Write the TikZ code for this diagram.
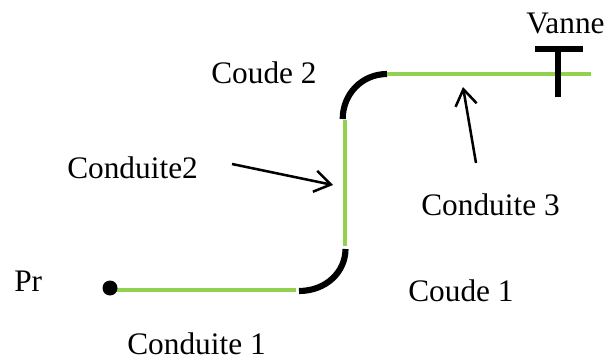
\documentclass[tikz,border=0pt]{standalone}
\usepackage{fontspec}
\setmainfont{Liberation Serif}
\usetikzlibrary{arrows.meta}
\definecolor{pipegreen}{RGB}{146,208,80}
\tikzset{
  x=0.75pt,y=-0.75pt,
  lbl/.style={inner sep=0pt,font=\fontsize{23.5}{28}\selectfont,anchor=base west},
  pipe/.style={line width=3.3pt,draw=pipegreen},
  elbow/.style={line width=4.6pt,draw=black},
  valve/.style={line width=4.5pt,draw=black},
  arrowline/.style={line width=1.9pt,-{Straight Barb[length=12pt,width=16pt,line width=1.9pt]}}
}
\begin{document}
\begin{tikzpicture}
\useasboundingbox (0,0) rectangle (611,360);
\fill[white] (0,0) rectangle (611,360);
\node[lbl] (vanne) at (526,34) {Vanne};
\node[lbl] (c2) at (211,84) {Coude 2};
\node[lbl] (cd2) at (67,179) {Conduite2};
\node[lbl] (cd3) at (421,215) {Conduite 3};
\node[lbl] (c1) at (408,301) {Coude 1};
\node[lbl] (pr) at (14,291) {Pr};
\node[lbl] (cd1) at (127,354.5) {Conduite 1};
\coordinate (p1s) at (110,290);
\coordinate (p1) at (296,290);
\coordinate (e1a) at (299,291);
\coordinate (e1b) at (345.5,249);
\coordinate (p2) at (345,246);
\coordinate (p3) at (345,120);
\coordinate (e2a) at (342.7,119);
\coordinate (e2b) at (387,74);
\coordinate (p4) at (387,74);
\coordinate (v) at (591,74);
\draw[pipe] (p1s) -- (p1);
\node[circle,fill=black,inner sep=0pt,minimum size=11.25pt] (dot) at (110,288) {};
\draw[elbow] (e1a) .. controls (326,291) and (345.5,272) .. (e1b);
\draw[pipe] (p2) -- (p3);
\draw[elbow] (e2a) .. controls (342.7,94) and (362,74) .. (e2b);
\draw[pipe] (p4) -- (v);
\draw[valve] (558,49) -- (558,97);
\draw[valve] (535,49) -- (583,49);
\coordinate (a1s) at (232,164);
\coordinate (a1e) at (333,185);
\coordinate (a2s) at (476,163);
\coordinate (a2e) at (463,87);
\draw[arrowline] (a1s) -- (a1e);
\draw[arrowline] (a2s) -- (a2e);
\end{tikzpicture}
\end{document}
